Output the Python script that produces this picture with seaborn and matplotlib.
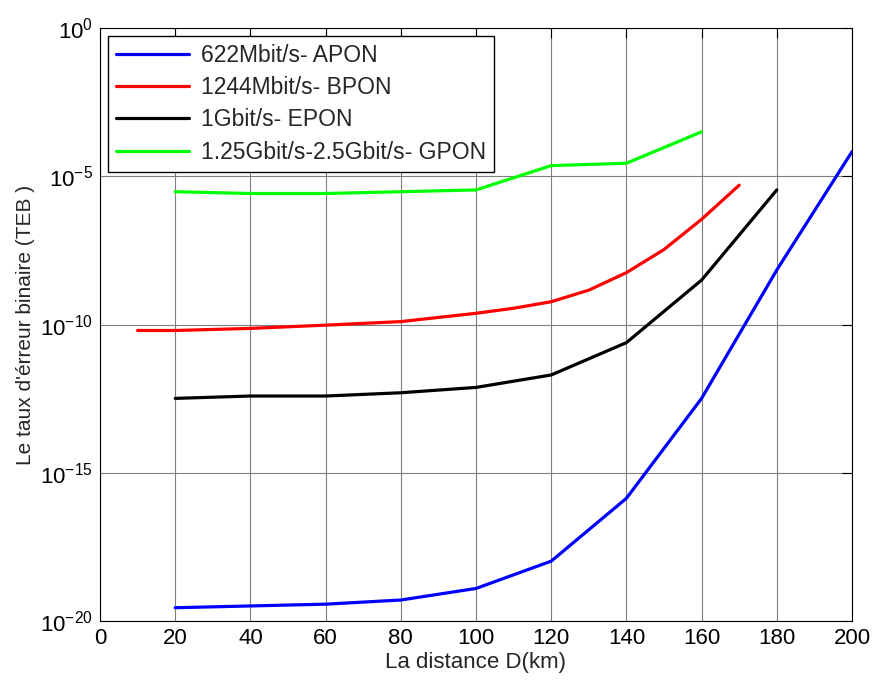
import numpy as np
import pandas as pd
import matplotlib
matplotlib.use("Agg")
import matplotlib.pyplot as plt
import seaborn as sns

# distances (km) and BER values (log10 values)
d_apon = [20, 40, 60, 80, 100, 120, 140, 160, 180, 200]
ber_apon = [-19.55, -19.49, -19.43, -19.29, -18.9, -17.98, -15.86, -12.49, -8.16, -4.17]

d_bpon = [10, 20, 40, 60, 80, 100, 110, 120, 130, 140, 150, 160, 170]
ber_bpon = [-10.2, -10.2, -10.13, -10.02, -9.9, -9.62, -9.45, -9.23, -8.84, -8.25, -7.47, -6.45, -5.3]

d_epon = [20, 40, 60, 80, 100, 120, 140, 160, 180]
ber_epon = [-12.49, -12.41, -12.41, -12.3, -12.12, -11.7, -10.61, -8.5, -5.46]

d_gpon = [20, 40, 60, 80, 100, 120, 140, 160]
ber_gpon = [-5.52, -5.58, -5.58, -5.52, -5.46, -4.64, -4.56, -3.5]

labels = ["622Mbit/s- APON", "1244Mbit/s- BPON", "1Gbit/s- EPON",
          "1.25Gbit/s-2.5Gbit/s- GPON"]
colors = ["#0000ff", "#ff0000", "#000000", "#00ff00"]

frames = []
for lab, d, b in zip(labels, [d_apon, d_bpon, d_epon, d_gpon],
                     [ber_apon, ber_bpon, ber_epon, ber_gpon]):
    frames.append(pd.DataFrame({"D": d, "TEB": 10.0 ** np.array(b), "Type": lab}))
df = pd.concat(frames, ignore_index=True)

sns.set_style("white")
plt.rcParams['font.family'] = ['Liberation Sans', 'DejaVu Sans']
plt.rcParams['mathtext.fontset'] = 'custom'
plt.rcParams['mathtext.rm'] = 'Liberation Sans'

fig = plt.figure(figsize=(8.75, 6.84), dpi=100)
ax = fig.add_axes([0.1143, 0.092, 0.8594, 0.867])

sns.lineplot(data=df, x="D", y="TEB", hue="Type", hue_order=labels,
             palette=colors, estimator=None, sort=False, linewidth=2.3, ax=ax)

ax.set_yscale("log")
ax.set_xlim(0, 200)
ax.set_ylim(1e-20, 1e0)
ax.set_xticks(range(0, 201, 20))
ax.set_yticks([1e-20, 1e-15, 1e-10, 1e-5, 1e0])
ax.yaxis.set_minor_locator(matplotlib.ticker.NullLocator())
ax.set_yticklabels([r"$10^{-20}$", r"$10^{-15}$", r"$10^{-10}$", r"$10^{-5}$", r"$10^{0}$"])

ax.grid(True, color="#7f7f7f", linewidth=0.8, linestyle="-")
ax.tick_params(direction="in", length=7, width=0.8, top=True, right=True,
               labelsize=16, colors="black", pad=5)
for s in ax.spines.values():
    s.set_color("black")
    s.set_linewidth(0.8)

ax.set_xlabel("La distance D(km)", fontsize=16, labelpad=2)
ax.set_ylabel("Le taux d'érreur binaire (TEB )", fontsize=15, labelpad=4)

leg = ax.legend(loc="upper left", fontsize=16.5, frameon=True, fancybox=False,
                handlelength=3.2, handletextpad=0.5, borderaxespad=0.35,
                labelspacing=0.4, borderpad=0.35, bbox_to_anchor=(0.0, 1.0))
leg.get_frame().set_edgecolor("black")
leg.get_frame().set_linewidth(1.0)
leg.get_frame().set_alpha(1.0)

fig.savefig("out.png", dpi=100)
